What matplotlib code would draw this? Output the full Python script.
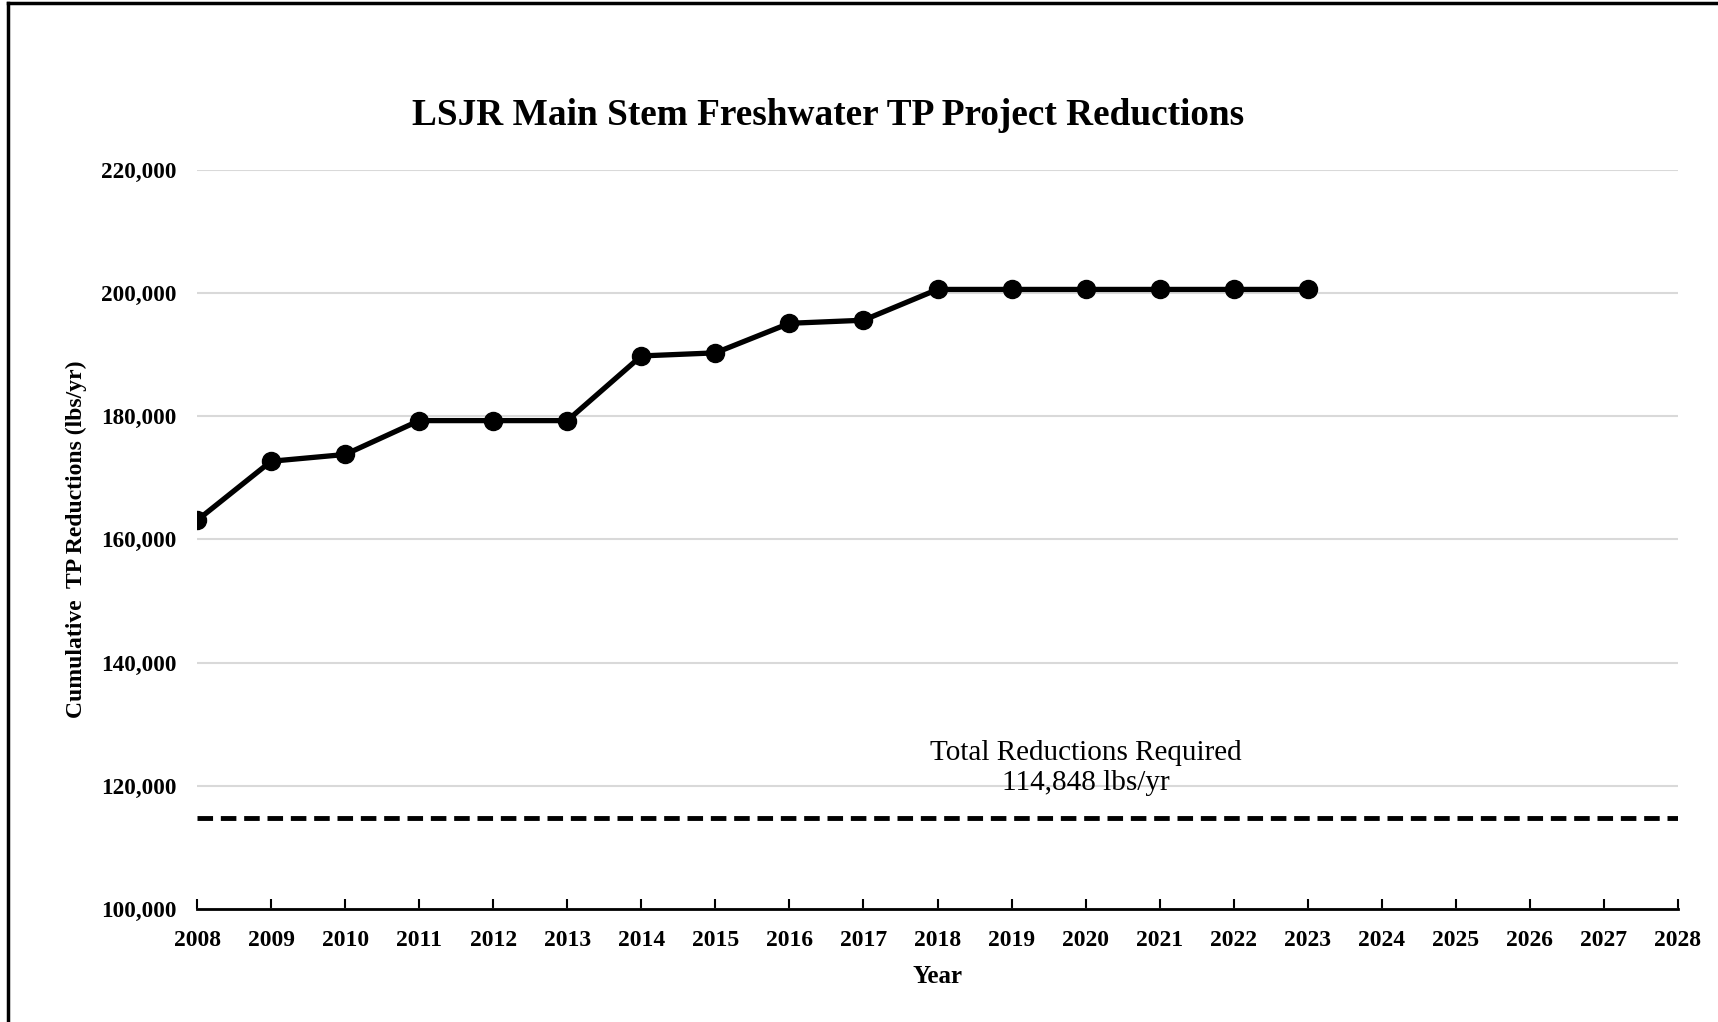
import matplotlib
matplotlib.use("Agg")
import matplotlib.pyplot as plt
from matplotlib.lines import Line2D
from matplotlib.ticker import FuncFormatter

plt.rcParams['font.family'] = ['Liberation Serif', 'DejaVu Serif']

# data
years = [2008, 2009, 2010, 2011, 2012, 2013, 2014, 2015, 2016, 2017,
         2018, 2019, 2020, 2021, 2022, 2023]
reductions = [163100, 172700, 173800, 179300, 179300, 179300, 189800, 190300,
              195100, 195600, 200600, 200600, 200600, 200600, 200600, 200600]
target = 114848
x_ticks = list(range(2008, 2029))
y_ticks = [100000, 120000, 140000, 160000, 180000, 200000, 220000]

fig = plt.figure(figsize=(17.18, 10.22), dpi=100)
ax = fig.add_axes([0.1147, 0.1106, 0.862, 0.7231])

# target line
ax.plot([2008, 2028], [target, target], color='black', lw=3.5,
        linestyle=(0, (3.2, 1.6)), dash_capstyle='butt', zorder=3)
# cumulative reductions
ax.plot(years, reductions, color='black', lw=3.8, marker='o', ms=13, zorder=4)

ax.text(2020, 118300, 'Total Reductions Required\n114,848 lbs/yr',
        ha='center', va='bottom', fontsize=21, linespacing=1.2)

ax.set_xlim(2008, 2028)
ax.set_ylim(100000, 220000)
ax.set_xticks(x_ticks)
ax.set_yticks(y_ticks)
ax.yaxis.set_major_formatter(FuncFormatter(lambda v, p: f'{int(v):,}'))
ax.grid(axis='y', color='#d9d9d9', lw=1.5)
ax.set_axisbelow(True)

for s in ['top', 'right', 'left']:
    ax.spines[s].set_visible(False)
ax.spines['bottom'].set_linewidth(2)
ax.tick_params(axis='x', direction='in', length=7, width=1.5, pad=15,
               labelsize=17)
ax.tick_params(axis='y', length=0, pad=15, labelsize=16.7)
for lab in ax.get_xticklabels() + ax.get_yticklabels():
    lab.set_fontweight('bold')

ax.set_xlabel('Year', fontsize=18, fontweight='bold', labelpad=10)
ax.set_ylabel('Cumulative  TP Reductions (lbs/yr)', fontsize=17,
              fontweight='bold', labelpad=10)
fig.text(0.482, 0.887, 'LSJR Main Stem Freshwater TP Project Reductions',
         ha='center', va='center', fontsize=26.8, fontweight='bold')

# outer border (top and left visible in the reference)
fig.add_artist(Line2D([0.0047, 0.0047], [0, 0.997], color='black', lw=2.5,
                      transform=fig.transFigure))
fig.add_artist(Line2D([0.0047, 1], [0.997, 0.997], color='black', lw=2.5,
                      transform=fig.transFigure))

fig.savefig('out.png', dpi=100)
